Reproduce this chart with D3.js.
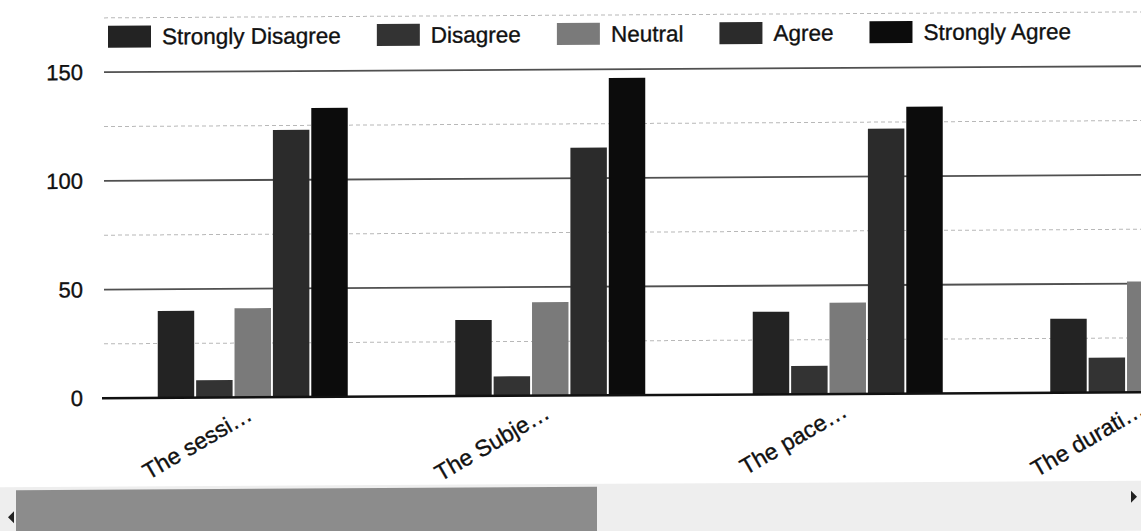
<!DOCTYPE html>
<html>
<head>
<meta charset="utf-8">
<script src="https://cdn.jsdelivr.net/npm/d3@7"></script>
<style>
  html, body { margin: 0; padding: 0; background: #ffffff; }
  svg { display: block; font-family: "Liberation Sans", Arial, sans-serif; }
  text { stroke: #111; stroke-width: 0.35; }
</style>
</head>
<body>
<script>
// ---- data ----
const categories = ["The sessi…", "The Subje…", "The pace…", "The durati…"];
const seriesNames = ["Strongly Disagree", "Disagree", "Neutral", "Agree", "Strongly Agree"];
const stronglyDisagree = [40, 35, 38, 34];
const disagree = [8, 9, 13, 16];
const neutral = [41, 43, 42, 51];
const agree = [123, 114, 122, null];
const stronglyAgree = [133, 146, 132, null];
const majorTicks = [0, 50, 100, 150];
const minorTicks = [25, 75, 125, 175];
const seriesColors = ["#232323", "#333333", "#7a7a7a", "#2b2b2b", "#0c0c0c"];

const seriesValues = [stronglyDisagree, disagree, neutral, agree, stronglyAgree];

const W = 1141, H = 531;
const svg = d3.select("body").append("svg").attr("width", W).attr("height", H);

// slight tilt of the photographed page
const tilt = 0.33;
const g = svg.append("g")
  .attr("transform", `translate(0,${570 * Math.tan(tilt * Math.PI / 180)}) skewY(${-tilt})`);

const plotLeft = 104, step = 297.5;
const x0 = d3.scaleBand().domain(categories)
  .range([plotLeft, plotLeft + step * categories.length]).padding(0);
const x1 = d3.scaleBand().domain(seriesNames)
  .range([x0.bandwidth() / 2 - 95, x0.bandwidth() / 2 + 95]).paddingInner(0.05);
const y = d3.scaleLinear().domain([0, 175]).range([395.5, 15.2]);
const color = d3.scaleOrdinal().domain(seriesNames).range(seriesColors);

// minor gridlines
g.append("g").selectAll("line").data(minorTicks).join("line")
  .attr("x1", plotLeft).attr("x2", W + 20)
  .attr("y1", d => y(d)).attr("y2", d => y(d))
  .attr("stroke", "#b8b8b8").attr("stroke-width", 1).attr("stroke-dasharray", "4 3");

// major gridlines
g.append("g").selectAll("line").data(majorTicks.filter(d => d > 0)).join("line")
  .attr("x1", plotLeft).attr("x2", W + 20)
  .attr("y1", d => y(d)).attr("y2", d => y(d))
  .attr("stroke", "#505050").attr("stroke-width", 1.8);

// y tick labels
g.append("g").selectAll("text").data(majorTicks).join("text")
  .attr("x", 83).attr("y", d => y(d)).attr("dy", "0.35em")
  .attr("text-anchor", "end").attr("font-size", 22).attr("fill", "#111")
  .text(d => d3.format("d")(d));

// bars
const groups = g.append("g").selectAll("g").data(categories).join("g")
  .attr("transform", d => `translate(${x0(d)},0)`);
groups.selectAll("rect")
  .data((c, i) => seriesNames.map((s, k) => ({ s, v: seriesValues[k][i] })).filter(d => d.v != null))
  .join("rect")
  .attr("x", d => x1(d.s)).attr("width", x1.bandwidth())
  .attr("y", d => y(d.v)).attr("height", d => y(0) - y(d.v))
  .attr("fill", d => color(d.s));

// baseline
g.append("line").attr("x1", plotLeft - 2).attr("x2", W + 20)
  .attr("y1", y(0)).attr("y2", y(0)).attr("stroke", "#111").attr("stroke-width", 2.5);

// category labels
g.append("g").selectAll("text").data(categories).join("text")
  .attr("transform", d => `translate(${x0(d) + x0.bandwidth() / 2 + 1},417) rotate(-30)`)
  .attr("text-anchor", "end").attr("font-size", 23).attr("fill", "#111")
  .text(d => d);

// legend
const legend = g.append("g");
let lx = 108;
seriesNames.forEach(s => {
  legend.append("rect").attr("x", lx).attr("y", 23).attr("width", 43).attr("height", 22)
    .attr("fill", color(s));
  const t = legend.append("text").attr("x", lx + 54).attr("y", 42)
    .attr("font-size", 22.5).attr("fill", "#111").text(s);
  lx += 54 + t.node().getComputedTextLength() + 36;
});

// horizontal scrollbar
const sb = g.append("g");
sb.append("rect").attr("x", 0).attr("y", 484).attr("width", W).attr("height", 50).attr("fill", "#eeeeee");
sb.append("rect").attr("x", 16).attr("y", 487).attr("width", 581).attr("height", 50).attr("fill", "#8c8c8c");
sb.append("path").attr("d", "M8,514 L14,508 L14,520 Z").attr("fill", "#222");
sb.append("path").attr("d", "M1137,500 L1131,494 L1131,506 Z").attr("fill", "#222");
</script>
</body>
</html>
